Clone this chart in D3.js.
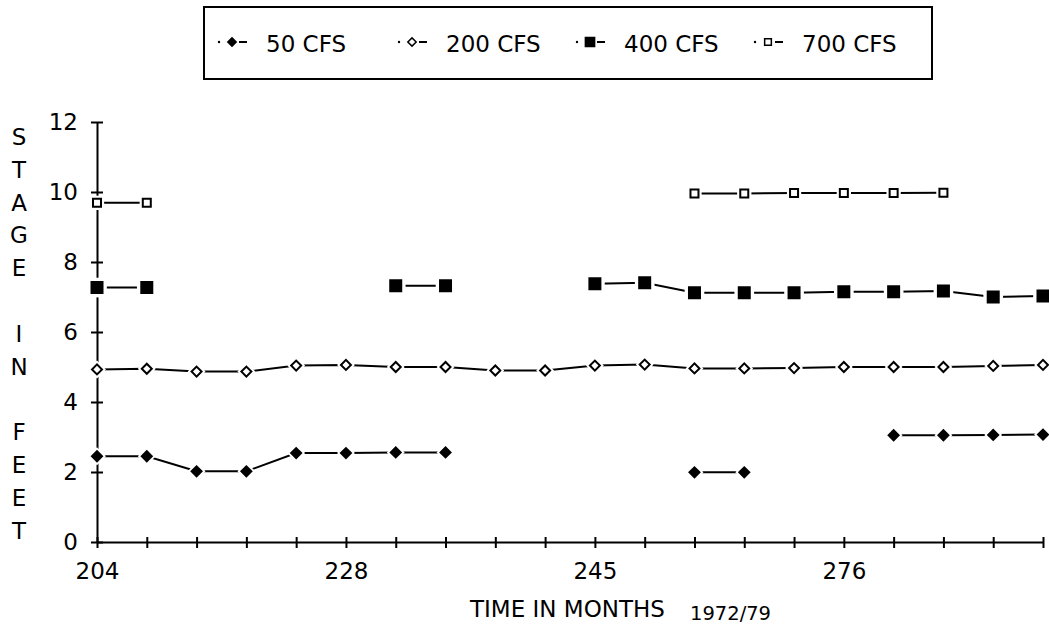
<!DOCTYPE html>
<html>
<head>
<meta charset="utf-8">
<script src="https://cdn.jsdelivr.net/npm/d3@7"></script>
<style>
  body { margin: 0; background: #fff; }
  text { font-family: "DejaVu Sans", sans-serif; fill: #000; }
</style>
</head>
<body>
<div id="chart"></div>
<script>
// data (20 sample times, gaps = no reading)
var months = ["204","","","","","228","","","","","245","","","","","276","","","",""];
var yTicks = [0, 2, 4, 6, 8, 10, 12];
var titleLetters = ["S","T","A","G","E","","I","N","","F","E","E","T"];

var cfs50  = [2.45, 2.45, 2.02, 2.02, 2.54, 2.54, 2.56, 2.56, null, null, null, null, 1.99, 1.99, null, null, 3.05, 3.05, 3.06, 3.07];
var cfs200 = [4.93, 4.95, 4.87, 4.87, 5.04, 5.06, 5.0, 5.0, 4.9, 4.9, 5.04, 5.07, 4.96, 4.96, 4.97, 5.0, 5.0, 5.0, 5.03, 5.06];
var cfs400 = [7.27, 7.27, null, null, null, null, 7.32, 7.32, null, null, 7.38, 7.41, 7.12, 7.12, 7.12, 7.15, 7.15, 7.17, 7.0, 7.03];
var cfs700 = [9.69, 9.69, null, null, null, null, null, null, null, null, null, null, 9.96, 9.96, 9.97, 9.97, 9.97, 9.98, null, null];

var seriesNames = ["50 CFS", "200 CFS", "400 CFS", "700 CFS"];

var width = 1049, height = 628;

var svg = d3.select("#chart")
  .append("svg")
  .attr("width", width)
  .attr("height", height);

// x is just the sample index, labels only every fifth one
var x = d3.scalePoint()
  .domain(d3.range(months.length))
  .range([97, 1043]);

var y = d3.scaleLinear()
  .domain([0, 12])
  .range([542, 122]);

// markers: filled/open diamond, filled/open square
var markers = [
  {shape: d3.symbolSquare, size: 50, rot: 45, fill: "#000"},
  {shape: d3.symbolSquare, size: 50, rot: 45, fill: "#fff"},
  {shape: d3.symbolSquare, size: 121, rot: 0, fill: "#000"},
  {shape: d3.symbolSquare, size: 64, rot: 0, fill: "#fff"}
];
var allSeries = [cfs50, cfs200, cfs400, cfs700];

// axes
var yAxis = svg.append("g")
  .attr("transform", "translate(" + x(0) + ",0)")
  .call(d3.axisLeft(y).tickValues(yTicks).tickSize(0).tickPadding(19));
yAxis.select(".domain").attr("stroke", "#000").attr("stroke-width", 2);
yAxis.selectAll(".tick text").style("font-size", "23px");
yAxis.selectAll(".tick").append("line")
  .attr("x1", -6).attr("x2", 6)
  .attr("stroke", "#000").attr("stroke-width", 2);

var xAxis = svg.append("g")
  .attr("transform", "translate(0," + y(0) + ")")
  .call(d3.axisBottom(x).tickSize(0).tickPadding(21).tickFormat(function(d) { return months[d]; }));
xAxis.select(".domain").attr("stroke", "#000").attr("stroke-width", 2);
xAxis.selectAll(".tick text").style("font-size", "23px");
xAxis.selectAll(".tick").append("line")
  .attr("y1", -5).attr("y2", 6)
  .attr("stroke", "#000").attr("stroke-width", 2);

// lines
var line = d3.line()
  .defined(function(d) { return d != null; })
  .x(function(d, i) { return x(i); })
  .y(function(d) { return y(d); });

svg.selectAll("path.series")
  .data(allSeries)
  .enter()
  .append("path")
  .attr("class", "series")
  .attr("d", line)
  .attr("fill", "none")
  .attr("stroke", "#000")
  .attr("stroke-width", 2);

// markers with a white halo so the lines stop short of them
allSeries.forEach(function(values, s) {
  var m = markers[s];
  var pts = values.map(function(v, i) { return {i: i, v: v}; })
    .filter(function(p) { return p.v != null; });
  var g = svg.append("g");
  g.selectAll("path.halo")
    .data(pts).enter()
    .append("path")
    .attr("transform", function(p) { return "translate(" + x(p.i) + "," + y(p.v) + ") rotate(" + m.rot + ")"; })
    .attr("d", d3.symbol(m.shape, m.size * 3.2))
    .attr("fill", "#fff");
  g.selectAll("path.mark")
    .data(pts).enter()
    .append("path")
    .attr("transform", function(p) { return "translate(" + x(p.i) + "," + y(p.v) + ") rotate(" + m.rot + ")"; })
    .attr("d", d3.symbol(m.shape, m.size))
    .attr("fill", m.fill)
    .attr("stroke", "#000")
    .attr("stroke-width", 2);
});

// vertical axis title, one letter per line
svg.selectAll("text.ytitle")
  .data(titleLetters)
  .enter()
  .append("text")
  .attr("class", "ytitle")
  .attr("x", 19)
  .attr("y", function(d, i) { return 137 + i * 32.8; })
  .attr("text-anchor", "middle")
  .attr("dominant-baseline", "central")
  .style("font-size", "23px")
  .text(function(d) { return d; });

// x title
svg.append("text")
  .attr("x", 470).attr("y", 617)
  .style("font-size", "23px")
  .text("TIME IN MONTHS");
svg.append("text")
  .attr("x", 690).attr("y", 620)
  .style("font-size", "19.5px")
  .text("1972/79");

// legend
var legend = svg.append("g");
legend.append("rect")
  .attr("x", 204).attr("y", 7)
  .attr("width", 728).attr("height", 72)
  .attr("fill", "none")
  .attr("stroke", "#000")
  .attr("stroke-width", 2);

var legendX = [232, 412, 590, 768];
seriesNames.forEach(function(name, s) {
  var m = markers[s];
  var cx = legendX[s], cy = 42;
  legend.append("circle")
    .attr("cx", cx - 13).attr("cy", cy)
    .attr("r", 1.2)
    .attr("fill", "#000");
  legend.append("line")
    .attr("x1", cx + 7).attr("x2", cx + 15)
    .attr("y1", cy).attr("y2", cy)
    .attr("stroke", "#000").attr("stroke-width", 2);
  legend.append("path")
    .attr("transform", "translate(" + cx + "," + cy + ") rotate(" + m.rot + ")")
    .attr("d", d3.symbol(m.shape, m.size * 0.7))
    .attr("fill", m.fill)
    .attr("stroke", "#000")
    .attr("stroke-width", 1.5);
  legend.append("text")
    .attr("x", cx + 34).attr("y", 52)
    .style("font-size", "23px")
    .text(name);
});
</script>
</body>
</html>
